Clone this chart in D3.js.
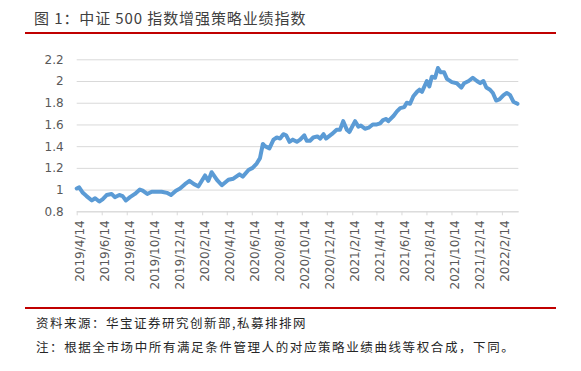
<!DOCTYPE html>
<html>
<head>
<meta charset="utf-8">
<script src="https://cdn.jsdelivr.net/npm/d3@7"></script>
<style>
  body { margin: 0; background: #fff; }
</style>
</head>
<body>
<div class="chart-div"></div>
<script>
var width = 581;
var height = 371;

// weekly-ish readings of the index curve
var dates = ["2019-04-14", "2019-04-20", "2019-04-29", "2019-05-08", "2019-05-21", "2019-05-29", "2019-06-08", "2019-06-16", "2019-06-26", "2019-07-08",
    "2019-07-16", "2019-07-27", "2019-08-04", "2019-08-12", "2019-08-22", "2019-09-03", "2019-09-15", "2019-09-22", "2019-10-03", "2019-10-14",
    "2019-10-26", "2019-11-07", "2019-11-20", "2019-11-30", "2019-12-12", "2019-12-22", "2020-01-03", "2020-01-14", "2020-01-25", "2020-02-05",
    "2020-02-21", "2020-02-29", "2020-03-08", "2020-03-21", "2020-04-02", "2020-04-18", "2020-04-30", "2020-05-15", "2020-05-23", "2020-06-06",
    "2020-06-16", "2020-06-26", "2020-07-04", "2020-07-11", "2020-07-16", "2020-07-27", "2020-08-06", "2020-08-14", "2020-08-22", "2020-08-30",
    "2020-09-06", "2020-09-14", "2020-09-22", "2020-10-02", "2020-10-10", "2020-10-20", "2020-10-26", "2020-11-03", "2020-11-11", "2020-11-21",
    "2020-11-28", "2020-12-06", "2020-12-12", "2020-12-26", "2021-01-07", "2021-01-15", "2021-01-23", "2021-02-01", "2021-02-07", "2021-02-21",
    "2021-03-01", "2021-03-07", "2021-03-17", "2021-03-26", "2021-04-05", "2021-04-15", "2021-04-23", "2021-04-30", "2021-05-08", "2021-05-13",
    "2021-05-26", "2021-06-03", "2021-06-11", "2021-06-21", "2021-06-27", "2021-07-05", "2021-07-13", "2021-07-22", "2021-07-28", "2021-08-03",
    "2021-08-15", "2021-08-21", "2021-08-27", "2021-09-04", "2021-09-11", "2021-09-18", "2021-09-26", "2021-10-03", "2021-10-15", "2021-10-27",
    "2021-11-07", "2021-11-14", "2021-11-25", "2021-12-05", "2021-12-15", "2021-12-23", "2021-12-31", "2022-01-07", "2022-01-16", "2022-01-23",
    "2022-01-31", "2022-02-08", "2022-02-18", "2022-02-26", "2022-03-06", "2022-03-14", "2022-03-24"];

var values = [1.01, 1.02, 0.97, 0.94, 0.90, 0.92, 0.89, 0.91, 0.95, 0.96,
    0.93, 0.95, 0.94, 0.90, 0.93, 0.96, 1.00, 0.99, 0.96, 0.98,
    0.98, 0.98, 0.97, 0.95, 0.99, 1.01, 1.05, 1.08, 1.05, 1.03,
    1.13, 1.08, 1.16, 1.09, 1.04, 1.09, 1.10, 1.14, 1.12, 1.18,
    1.20, 1.24, 1.29, 1.42, 1.40, 1.38, 1.46, 1.48, 1.47, 1.51,
    1.50, 1.44, 1.46, 1.44, 1.46, 1.50, 1.45, 1.45, 1.48, 1.49,
    1.47, 1.51, 1.47, 1.51, 1.55, 1.55, 1.63, 1.55, 1.53, 1.63,
    1.58, 1.59, 1.56, 1.57, 1.60, 1.60, 1.61, 1.64, 1.65, 1.63,
    1.68, 1.72, 1.75, 1.76, 1.80, 1.79, 1.86, 1.90, 1.92, 1.90,
    2.00, 1.95, 2.04, 2.03, 2.12, 2.08, 2.08, 2.02, 1.99, 1.98,
    1.94, 1.98, 2.00, 2.03, 2.00, 1.98, 2.00, 1.94, 1.92, 1.89,
    1.82, 1.83, 1.87, 1.89, 1.87, 1.81, 1.79];

var tick_dates = ["2019-04-14", "2019-06-14", "2019-08-14", "2019-10-14", "2019-12-14", "2020-02-14", "2020-04-14", "2020-06-14", "2020-08-14",
    "2020-10-14", "2020-12-14", "2021-02-14", "2021-04-14", "2021-06-14", "2021-08-14", "2021-10-14", "2021-12-14", "2022-02-14"];
var y_ticks = [0.8, 1, 1.2, 1.4, 1.6, 1.8, 2, 2.2];
var date_range = ["2019-04-14", "2022-03-26"];

var title_text = "图 1：中证 500 指数增强策略业绩指数";
var source_text = "资料来源：华宝证券研究创新部,私募排排网";
var note_text = "注：根据全市场中所有满足条件管理人的对应策略业绩曲线等权合成，下同。";

var parse = d3.timeParse("%Y-%m-%d");
var fmt = d3.timeFormat("%Y/%-m/%-d");

var svg = d3.select("div.chart-div")
    .append("svg")
    .attr("width", width)
    .attr("height", height)

var x = d3.scaleTime()
    .domain(date_range.map(parse))
    .range([76.7, 518.3])

var y = d3.scaleLinear()
    .domain([0.8, 2.2])
    .range([211.3, 59.3])

//----------------------------- title + red rules

svg.append("text")
    .attr("x", 34)
    .attr("y", 24)
    .text(title_text)
    .attr("font-family", "Noto Sans CJK SC, sans-serif")
    .attr("font-size", 15)
    .attr("letter-spacing", 0.9)
    .style("fill", "#404040")

svg.append("line")
    .attr("x1", 25).attr("x2", 556)
    .attr("y1", 33).attr("y2", 33)
    .attr("stroke", "#C00000")
    .attr("stroke-width", 2)

svg.append("line")
    .attr("x1", 25).attr("x2", 556)
    .attr("y1", 308).attr("y2", 308)
    .attr("stroke", "#C00000")
    .attr("stroke-width", 2)

//----------------------------- grid + axes

var yAxis = d3.axisLeft(y)
    .tickValues(y_ticks)
    .tickSize(-(518.3 - 76.7))
    .tickPadding(13)
    .tickFormat(function (d) { return d3.format("")(+d.toFixed(1)); })

var gy = svg.append("g")
    .attr("transform", "translate(76.7,0)")
    .call(yAxis)

gy.select(".domain").remove()
gy.selectAll(".tick line")
    .attr("stroke", "#D9D9D9")
    .attr("stroke-width", 1)
gy.selectAll(".tick text")
    .attr("font-family", "DejaVu Sans, sans-serif")
    .attr("font-size", 12)
    .style("fill", "#595959")

var xAxis = d3.axisBottom(x)
    .tickValues(tick_dates.map(parse))
    .tickSize(4)
    .tickSizeOuter(0)
    .tickFormat(fmt)

var gx = svg.append("g")
    .attr("transform", "translate(0,211.3)")
    .call(xAxis)

gx.select(".domain").attr("stroke", "#D9D9D9")
gx.selectAll(".tick line").attr("stroke", "#D9D9D9")
gx.selectAll(".tick text")
    .attr("font-family", "DejaVu Sans, sans-serif")
    .attr("font-size", 12)
    .style("fill", "#595959")
    .attr("text-anchor", "end")
    .attr("transform", "rotate(-90)")
    .attr("x", -9)
    .attr("y", 2.5)
    .attr("dy", "0.35em")

//----------------------------- the curve

var lineGenerator = d3.line()
    .x(function (d) { return x(d[0]); })
    .y(function (d) { return y(d[1]); });

var points = dates.map(function (d, i) { return [parse(d), values[i]]; });

svg.append("path")
    .attr("d", lineGenerator(points))
    .attr("fill", "none")
    .style("stroke", "#5B9BD5")
    .style("stroke-width", "4px")
    .style("stroke-linejoin", "round")
    .style("stroke-linecap", "round")

//----------------------------- footer

svg.append("text")
    .attr("x", 36)
    .attr("y", 328)
    .text(source_text)
    .attr("font-family", "Noto Sans CJK SC, sans-serif")
    .attr("font-size", 12.5)
    .attr("letter-spacing", 1.5)
    .style("fill", "#262626")

svg.append("text")
    .attr("x", 36)
    .attr("y", 352)
    .text(note_text)
    .attr("font-family", "Noto Sans CJK SC, sans-serif")
    .attr("font-size", 12.5)
    .attr("letter-spacing", 1.6)
    .style("fill", "#262626")
</script>
</body>
</html>
